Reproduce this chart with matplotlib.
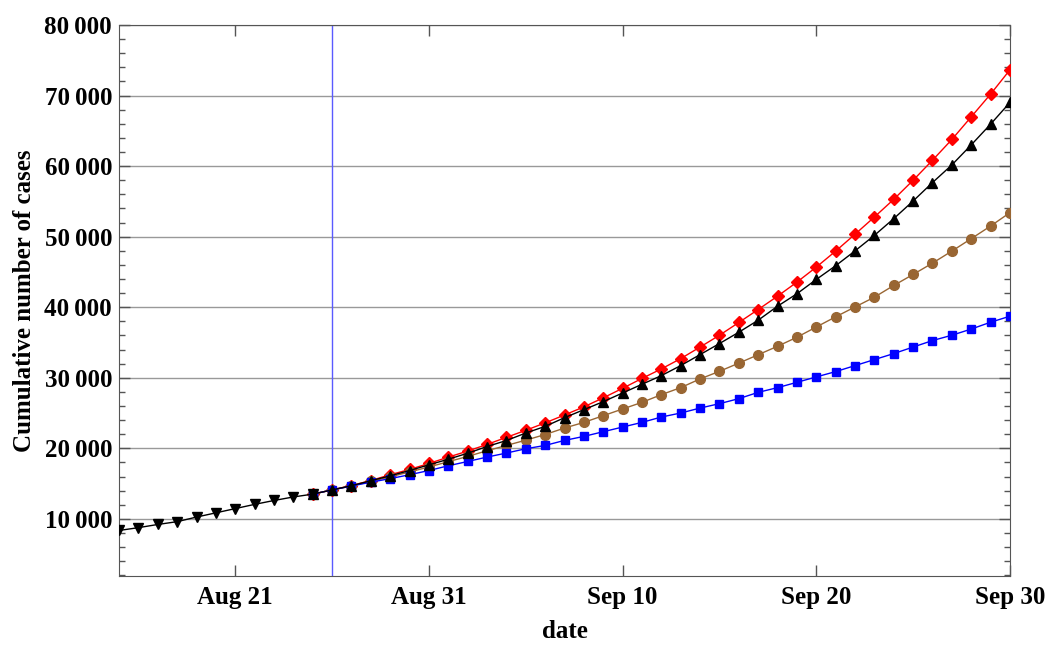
import numpy as np
import pandas as pd
import matplotlib
matplotlib.use('Agg')
import matplotlib.pyplot as plt
import matplotlib.dates as mdates
from matplotlib.ticker import FuncFormatter, MultipleLocator

plt.rcParams['font.family'] = ['Liberation Serif', 'DejaVu Serif']
plt.rcParams['font.weight'] = 'bold'

# observed data (Aug 15 - Aug 25)
hist_dates = pd.date_range('2020-08-15', '2020-08-25')
hist_cases = [8350, 8750, 9200, 9600, 10250, 10850, 11450, 12050, 12600, 13100, 13500]

# projections (Aug 25 - Sep 30)
proj_dates = pd.date_range('2020-08-25', '2020-09-30')
red_cases = [13500, 14110, 14720, 15430, 16250, 17000, 17850, 18750, 19600, 20550,
             21550, 22550, 23600, 24720, 25870, 27150, 28500, 29900, 31250, 32710,
             34350, 36020, 37830, 39670, 41560, 43550, 45680, 47950, 50340, 52780,
             55290, 57990, 60830, 63770, 66980, 70200, 73650]
black_cases = [13500, 14100, 14700, 15400, 16100, 16850, 17650, 18450, 19300, 20250,
               21100, 22160, 23105, 24336, 25472, 26610, 27840, 29070, 30300, 31720,
               33280, 34844, 36449, 38153, 40141, 41901, 43932, 45877, 47980, 50180,
               52551, 55051, 57663, 60163, 63003, 65942, 69023]
brown_cases = [13500, 14100, 14650, 15300, 15950, 16650, 17350, 18100, 18850, 19650,
               20400, 21150, 21950, 22870, 23670, 24620, 25570, 26510, 27600, 28600,
               29830, 30910, 32070, 33260, 34460, 35739, 37190, 38635, 40030, 41419,
               43080, 44642, 46247, 47951, 49711, 51501, 53403]
blue_cases = [13500, 14100, 14650, 15200, 15700, 16250, 16850, 17520, 18130, 18755,
              19323, 19934, 20403, 21115, 21685, 22348, 23010, 23670, 24430, 25000,
              25700, 26324, 27034, 27929, 28596, 29349, 30115, 30868, 31720, 32572,
              33424, 34350, 35270, 36023, 36900, 37869, 38721]

today = pd.Timestamp('2020-08-26')

fig = plt.figure(figsize=(10.48, 6.46), dpi=100)
ax = fig.add_axes([0.1136, 0.1084, 0.8501, 0.8529])

for yv in range(10000, 80001, 10000):
    ax.axhline(yv, color='#999999', lw=1, zorder=1)
ax.axvline(today, color='#5a5aff', lw=1, zorder=1)

ax.plot(proj_dates, red_cases, color='red', lw=1, marker='D', ms=6.5, zorder=3)
ax.plot(proj_dates, brown_cases, color='#996633', lw=1, marker='o', ms=7, zorder=3)
ax.plot(proj_dates, blue_cases, color='blue', lw=1, marker='s', ms=5.5, zorder=3)
ax.plot(proj_dates, black_cases, color='black', lw=1, marker='^', ms=7, zorder=4)
ax.plot(hist_dates, hist_cases, color='black', lw=1, marker='v', ms=7, zorder=4)

ax.set_xlim(pd.Timestamp('2020-08-15'), pd.Timestamp('2020-09-30'))
ax.set_ylim(1900, 80000)

xt = pd.to_datetime(['2020-08-21', '2020-08-31', '2020-09-10', '2020-09-20', '2020-09-30'])
ax.set_xticks(xt)
ax.xaxis.set_major_formatter(mdates.DateFormatter('%b %d'))
ax.yaxis.set_major_locator(MultipleLocator(10000))
ax.yaxis.set_minor_locator(MultipleLocator(2000))
ax.yaxis.set_major_formatter(FuncFormatter(lambda v, p: '{:,}'.format(int(v)).replace(',', '\u2009')))

ax.tick_params(which='both', direction='in', top=True, right=True, color='#555555',
               labelsize=18)
ax.tick_params(axis='x', pad=7)
ax.tick_params(axis='y', pad=5)
ax.tick_params(which='major', length=8, width=1)
ax.tick_params(which='minor', length=4, width=1)
for lab in ax.get_xticklabels() + ax.get_yticklabels():
    lab.set_fontweight('bold')
for sp in ax.spines.values():
    sp.set_color('#555555')

ax.set_xlabel('date', fontsize=18, fontweight='bold', labelpad=8)
ax.set_ylabel('Cumulative number of cases', fontsize=18, fontweight='bold', labelpad=6)

fig.savefig('out.png', dpi=100)
